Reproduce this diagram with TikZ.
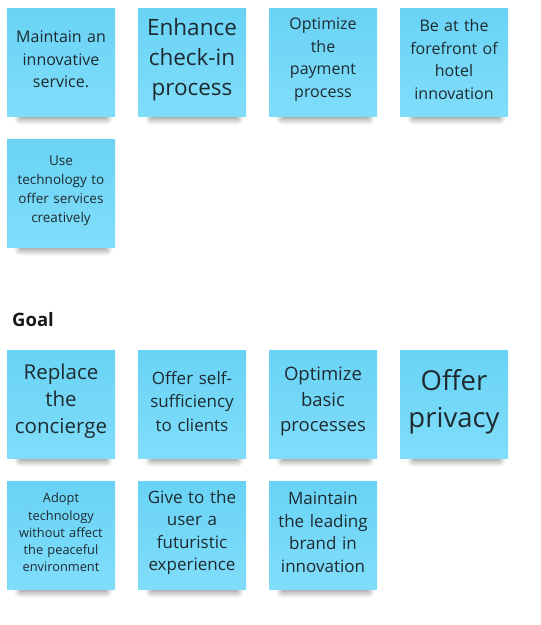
\documentclass[tikz,border=0pt]{standalone}
\usepackage{fontspec}
\setmainfont{Open Sans}
\usetikzlibrary{positioning,shadows.blur}
\definecolor{notetop}{HTML}{69D3F5}
\definecolor{notebot}{HTML}{80DDFA}
\definecolor{inktext}{HTML}{1F2A30}
\newcommand{\sz}[2]{\fontsize{#1}{#2}\selectfont}
\tikzset{
  note/.style={minimum width=108pt, minimum height=108pt, inner sep=4pt,
    text width=100pt, align=center, top color=notetop, bottom color=notebot,
    text=inktext, execute at end node={\par\vspace*{5pt}},
    blur shadow={shadow xshift=3pt, shadow yshift=-17pt,
    shadow scale=0.8, shadow blur radius=8pt, shadow blur steps=12,
    shadow opacity=50}},
  heading/.style={anchor=base west, inner sep=0pt, text=black!90}
}
\begin{document}
\begin{tikzpicture}[node distance=131pt]
\useasboundingbox (0pt,0pt) rectangle (541pt,-625pt);
% first block
\node[note, font=\sz{16}{22.5}] (maintain) at (61pt,-62pt) {Maintain an\\innovative\\service.};
\node[note, font=\sz{22.5}{30}] (checkin) [right of=maintain] {Enhance\\check-in\\process};
\node[note, font=\sz{16}{22.5}] (payment) [right of=checkin] {Optimize\\the\\payment\\process};
\node[note, font=\sz{16}{22.5}] (forefront) [right of=payment] {Be at the\\forefront of\\hotel\\innovation};
\node[note, font=\sz{13.5}{19}] (techuse) [below of=maintain] {Use\\technology to\\offer services\\creatively};
% goals
\node[heading, font=\sz{18.5}{22}\bfseries] (goal) at (12pt,-326pt) {Goal};
\node[note, font=\sz{20.5}{27}] (concierge) at (61pt,-404pt) {Replace\\the\\concierge};
\node[note, font=\sz{17}{23.5}] (selfsuff) [right of=concierge] {Offer self-\\sufficiency\\to clients};
\node[note, font=\sz{18.5}{25.5}] (basic) [right of=selfsuff] {Optimize\\basic\\processes};
\node[note, font=\sz{27.5}{37}] (privacy) [right of=basic] {Offer\\privacy};
\node[note, font=\sz{12.8}{17.2}] (adopt) [below of=concierge] {Adopt\\technology\\without affect\\the peaceful\\environment};
\node[note, font=\sz{17}{22.6}] (futur) [right of=adopt] {Give to the\\user a\\futuristic\\experience};
\node[note, font=\sz{17}{22.6}] (leading) [right of=futur] {Maintain\\the leading\\brand in\\innovation};
\end{tikzpicture}
\end{document}
